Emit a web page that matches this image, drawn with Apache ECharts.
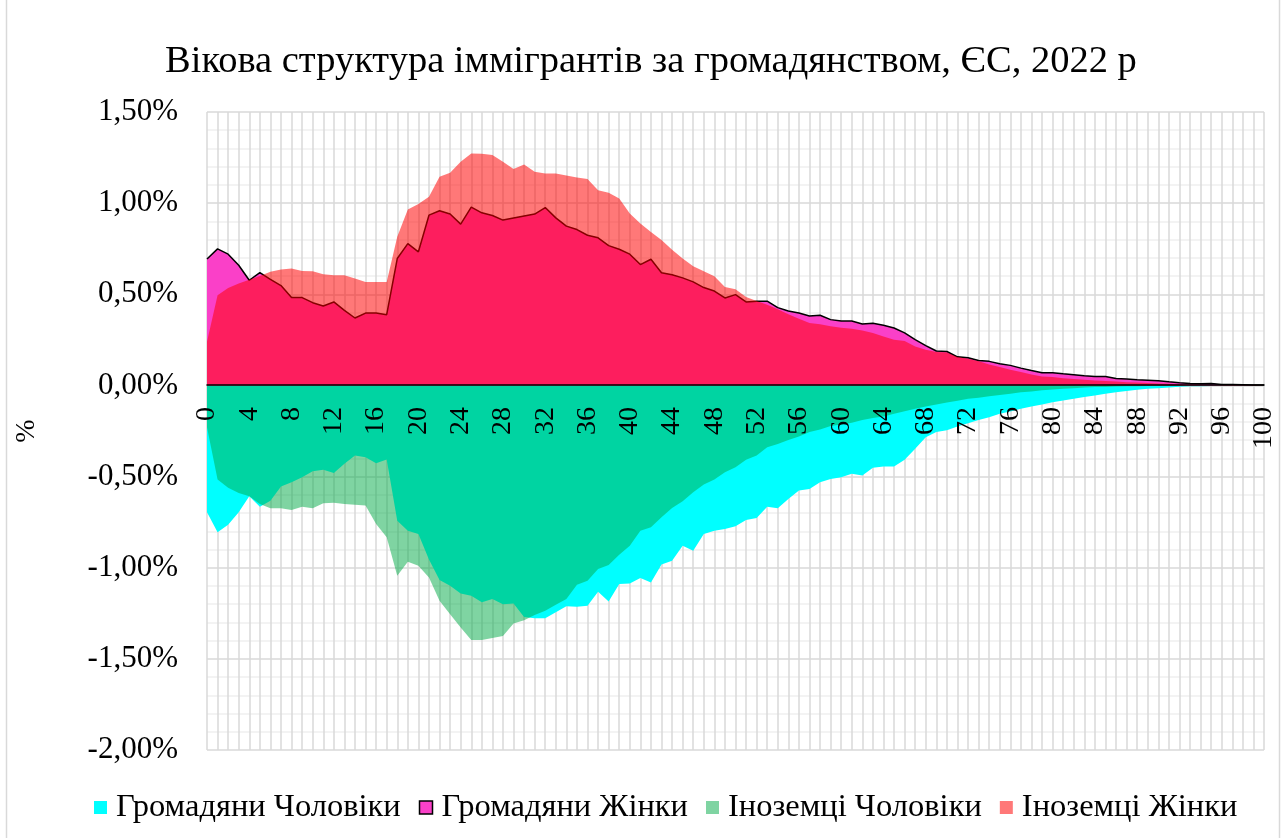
<!DOCTYPE html>
<html>
<head>
<meta charset="utf-8">
<title>Вікова структура іммігрантів</title>
<script src="https://cdn.jsdelivr.net/npm/echarts@6/dist/echarts.min.js"></script>
<style>
  html, body { margin: 0; padding: 0; background: #fff; }
  #chart { width: 1285px; height: 838px; }
</style>
</head>
<body>
<div id="chart"></div>
<script>
// age 0..100
const ages = Array.from({ length: 101 }, (_, i) => String(i))

// Громадяни Чоловіки (%)
const citizensMen = [
  -0.696, -0.806, -0.764, -0.696, -0.608, -0.665, -0.632, -0.555, -0.531, -0.504,
  -0.471, -0.462, -0.480, -0.430, -0.385, -0.394, -0.427, -0.407, -0.742, -0.797,
  -0.815, -0.955, -1.068, -1.099, -1.141, -1.154, -1.190, -1.172, -1.200, -1.196,
  -1.270, -1.277, -1.277, -1.245, -1.211, -1.214, -1.209, -1.132, -1.185, -1.090,
  -1.086, -1.057, -1.081, -0.983, -0.962, -0.879, -0.907, -0.815, -0.797, -0.788,
  -0.773, -0.738, -0.727, -0.665, -0.674, -0.623, -0.577, -0.568, -0.531, -0.513,
  -0.504, -0.485, -0.494, -0.452, -0.445, -0.445, -0.408, -0.348, -0.284, -0.256,
  -0.246, -0.225, -0.207, -0.189, -0.174, -0.156, -0.143, -0.128, -0.115, -0.104,
  -0.092, -0.082, -0.073, -0.064, -0.055, -0.046, -0.038, -0.031, -0.024, -0.018,
  -0.015, -0.011, -0.007, -0.005, -0.004, -0.003, -0.002, -0.001, -0.001, 0, 0
]

// Громадяни Жінки (%)
const citizensWomen = [
  0.694, 0.749, 0.720, 0.659, 0.577, 0.619, 0.582, 0.548, 0.482, 0.482,
  0.454, 0.436, 0.458, 0.412, 0.370, 0.397, 0.397, 0.388, 0.696, 0.778,
  0.733, 0.934, 0.958, 0.940, 0.885, 0.978, 0.947, 0.932, 0.907, 0.919,
  0.930, 0.940, 0.976, 0.919, 0.874, 0.855, 0.824, 0.810, 0.767, 0.747,
  0.720, 0.663, 0.692, 0.618, 0.607, 0.590, 0.568, 0.537, 0.518, 0.480,
  0.498, 0.458, 0.462, 0.462, 0.427, 0.408, 0.397, 0.381, 0.385, 0.361,
  0.353, 0.353, 0.337, 0.341, 0.330, 0.315, 0.288, 0.251, 0.218, 0.189,
  0.186, 0.157, 0.152, 0.137, 0.132, 0.119, 0.110, 0.095, 0.082, 0.070,
  0.070, 0.064, 0.059, 0.053, 0.049, 0.049, 0.038, 0.035, 0.031, 0.029,
  0.026, 0.020, 0.015, 0.011, 0.009, 0.011, 0.005, 0.005, 0.004, 0.002, 0.002
]

// Іноземці Чоловіки (%)
const foreignMen = [
  -0.229, -0.516, -0.562, -0.590, -0.608, -0.650, -0.674, -0.674, -0.683, -0.665,
  -0.674, -0.647, -0.643, -0.650, -0.654, -0.659, -0.760, -0.833, -1.044, -0.967,
  -0.989, -1.053, -1.181, -1.255, -1.328, -1.397, -1.397, -1.386, -1.375, -1.306,
  -1.288, -1.260, -1.236, -1.203, -1.172, -1.093, -1.071, -1.007, -0.985, -0.929,
  -0.879, -0.797, -0.778, -0.723, -0.673, -0.636, -0.586, -0.544, -0.516, -0.476,
  -0.449, -0.408, -0.385, -0.339, -0.321, -0.299, -0.280, -0.256, -0.242, -0.223,
  -0.214, -0.205, -0.189, -0.179, -0.170, -0.156, -0.141, -0.128, -0.115, -0.104,
  -0.094, -0.084, -0.073, -0.068, -0.060, -0.053, -0.046, -0.038, -0.033, -0.027,
  -0.022, -0.018, -0.015, -0.011, -0.009, -0.008, -0.006, -0.005, -0.004, -0.003,
  -0.003, -0.002, -0.002, -0.001, -0.001, -0.001, 0, 0, 0, 0, 0
]

// Іноземці Жінки (%)
const foreignWomen = [
  0.240, 0.495, 0.535, 0.559, 0.580, 0.600, 0.623, 0.636, 0.641, 0.628,
  0.626, 0.610, 0.604, 0.604, 0.586, 0.568, 0.568, 0.568, 0.815, 0.965,
  0.995, 1.035, 1.145, 1.167, 1.227, 1.273, 1.271, 1.264, 1.227, 1.187,
  1.212, 1.172, 1.163, 1.163, 1.152, 1.141, 1.132, 1.071, 1.057, 1.026,
  0.943, 0.888, 0.842, 0.798, 0.744, 0.696, 0.654, 0.626, 0.599, 0.540,
  0.527, 0.485, 0.463, 0.443, 0.418, 0.390, 0.366, 0.342, 0.335, 0.324,
  0.317, 0.311, 0.302, 0.288, 0.269, 0.251, 0.244, 0.214, 0.196, 0.183,
  0.180, 0.156, 0.147, 0.132, 0.115, 0.101, 0.086, 0.073, 0.060, 0.049,
  0.046, 0.040, 0.035, 0.031, 0.027, 0.024, 0.022, 0.018, 0.016, 0.013,
  0.011, 0.009, 0.007, 0.005, 0.004, 0.003, 0.002, 0.002, 0.001, 0.001, 0.001
]

const seriesNames = ['Громадяни Чоловіки', 'Громадяни Жінки', 'Іноземці Чоловіки', 'Іноземці Жінки']
const seriesColors = ['#00ffff', '#fa40c8', 'rgba(0, 170, 70, 0.5)', 'rgba(255, 0, 0, 0.53)']

const FONT = '"Liberation Serif", "Times New Roman", serif'

const chart = echarts.init(document.getElementById('chart'))

const areaSeries = (idx, data, line) => ({
  name: seriesNames[idx],
  type: 'line',
  data: data,
  symbol: 'none',
  silent: true,
  color: seriesColors[idx],
  lineStyle: line ? { color: '#000', width: 1.5 } : { width: 0, opacity: 0 },
  areaStyle: { color: seriesColors[idx], opacity: 1 },
  z: 2 + idx
})

// plot box: top 112, bottom 750 -> zero line sits at 385
const zeroOffset = -(750 - 385)

const option = {
  animation: false,
  textStyle: { fontFamily: FONT, color: '#000' },
  title: {
    text: 'Вікова структура іммігрантів за громадянством, ЄС, 2022 р',
    left: 160,
    top: 37,
    textStyle: { fontFamily: FONT, fontSize: 38.5, fontWeight: 'normal', color: '#000' }
  },
  graphic: [{
    type: 'rect',
    silent: true,
    shape: { x: 6.5, y: -2, width: 1273, height: 842 },
    style: { fill: 'none', stroke: '#d9d9d9', lineWidth: 1.5 }
  }],
  legend: {
    bottom: 9,
    left: 89,
    icon: 'rect',
    itemWidth: 13,
    itemHeight: 13,
    itemGap: 18,
    textStyle: { fontFamily: FONT, fontSize: 32.5, color: '#000', padding: [0, 0, 0, 4] },
    data: seriesNames.map((n, i) => ({
      name: n,
      itemStyle: i === 1
        ? { color: seriesColors[i], borderColor: '#000', borderWidth: 1.5 }
        : { color: seriesColors[i], borderWidth: 0 }
    }))
  },
  grid: { left: 207, right: 21, top: 112, bottom: 88, outerBoundsMode: 'none' },
  xAxis: [
    {
      // gridlines only
      type: 'category',
      data: ages,
      boundaryGap: false,
      axisLine: { show: false, onZero: false },
      axisTick: { show: false },
      axisLabel: { show: false },
      splitLine: { show: true, interval: 0, lineStyle: { color: '#d9d9d9', width: 1.5 } },
      z: 0
    },
    {
      // zero line + labels, drawn above the areas
      type: 'category',
      data: ages,
      boundaryGap: false,
      position: 'bottom',
      offset: zeroOffset,
      axisLine: { show: true, onZero: false, lineStyle: { color: '#000', width: 1.5 } },
      axisTick: { show: false },
      axisLabel: {
        interval: 3,
        rotate: 90,
        margin: 22,
        fontFamily: FONT,
        fontSize: 28,
        color: '#000'
      },
      splitLine: { show: false },
      z: 10
    }
  ],
  yAxis: {
    type: 'value',
    min: -2,
    max: 1.5,
    interval: 0.5,
    name: '%',
    nameLocation: 'middle',
    nameGap: 166,
    nameRotate: 90,
    nameTextStyle: { fontFamily: FONT, fontSize: 28, color: '#000' },
    axisLine: { show: false },
    axisTick: { show: false },
    axisLabel: {
      margin: 29,
      fontFamily: FONT,
      fontSize: 31,
      color: '#000',
      formatter: v => v.toFixed(2).replace('.', ',') + '%'
    },
    splitLine: { show: true, lineStyle: { color: '#d9d9d9', width: 1.5 } },
    minorTick: { show: false, splitNumber: 5 },
    minorSplitLine: { show: true, lineStyle: { color: '#efefef', width: 1.5 } }
  },
  series: [
    areaSeries(0, citizensMen, false),
    areaSeries(1, citizensWomen, true),
    areaSeries(2, foreignMen, false),
    areaSeries(3, foreignWomen, false)
  ]
}

chart.setOption(option)
window.addEventListener('resize', () => chart.resize())
</script>
</body>
</html>
